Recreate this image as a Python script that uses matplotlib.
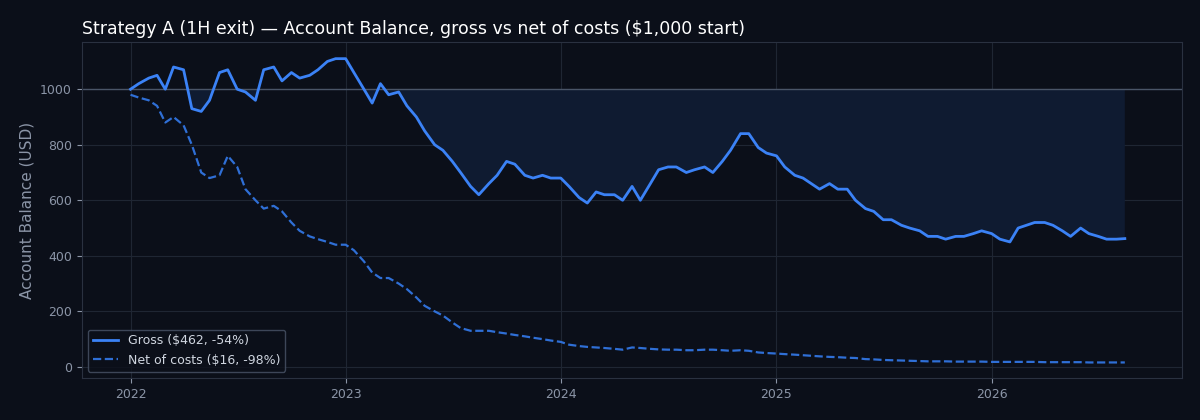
import matplotlib
matplotlib.use("Agg")
import matplotlib.pyplot as plt
import pandas as pd
import numpy as np

dates = pd.date_range("2022-01-01", periods=112, freq="SMS")
gross = [1000,1020,1040,1050,1000,1080,1070,930,920,960,1060,1070,1000,990,960,1070,1080,1030,1060,1040,1050,1070,1100,1110,
         1110,1060,1000,950,1020,980,990,940,900,850,800,780,740,700,650,620,660,690,740,730,690,680,690,680,
         680,650,610,590,630,620,620,600,650,600,660,710,720,720,700,710,720,700,740,780,840,840,790,770,
         760,720,690,680,660,640,660,640,640,600,570,560,530,530,510,500,490,470,470,460,470,470,480,490,
         480,460,450,500,510,520,520,510,490,470,500,480,470,460,460,462]
net = [980,970,960,940,880,900,870,800,700,680,690,760,720,640,600,570,580,560,520,490,470,460,450,440,
       440,420,380,340,320,320,300,280,250,220,200,185,160,140,130,130,130,125,120,115,110,105,100,95,
       90,80,75,72,70,68,65,62,70,68,65,63,62,62,60,60,62,62,60,58,60,58,52,50,
       48,46,44,42,40,38,36,35,33,32,28,27,25,24,23,22,21,20,20,20,19,19,19,19,
       18,18,18,18,18,18,17,17,17,17,17,16,16,16,16,16]
labels = ["Gross ($462, -54%)", "Net of costs ($16, -98%)"]
start = 1000

bg = "#0b0f19"
fig, ax = plt.subplots(figsize=(12, 4.2), dpi=100)
fig.patch.set_facecolor(bg)
ax.set_facecolor("#0b0f19")
g = np.array(gross, float)
ax.fill_between(dates, g, start, where=g < start, interpolate=True, color="#0f1b31", lw=0)
ax.axhline(start, color="#4a5568", lw=1)
ax.plot(dates, gross, color="#3b82f6", lw=2, label=labels[0])
ax.plot(dates, net, color="#2f6fd6", lw=1.6, ls="--", label=labels[1])
ax.grid(True, color="#1f2633", lw=0.8)
ax.set_axisbelow(True)
for s in ax.spines.values():
    s.set_color("#2a3140")
ax.tick_params(colors="#8b95a7", labelsize=9)
ax.set_ylabel("Account Balance (USD)", color="#8b95a7", fontsize=11)
ax.set_title("Strategy A (1H exit) — Account Balance, gross vs net of costs ($1,000 start)",
             color="white", fontsize=12.5, loc="left")
ax.set_ylim(-40, 1170)
ax.set_xlim(pd.Timestamp("2021-10-10"), pd.Timestamp("2026-11-20"))
leg = ax.legend(loc="lower left", facecolor="#0b0f19", edgecolor="#4a5568", fontsize=9)
for t in leg.get_texts():
    t.set_color("#d0d6e0")
fig.subplots_adjust(left=0.068, right=0.985, top=0.9, bottom=0.1)
fig.savefig("out.png", facecolor=bg)
